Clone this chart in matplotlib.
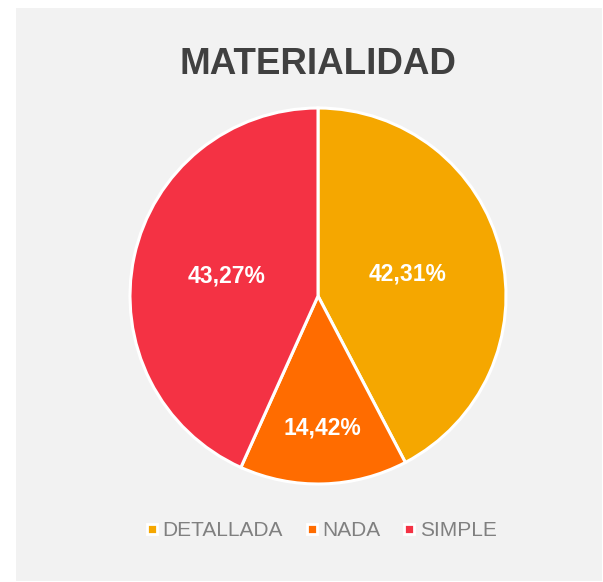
import matplotlib.pyplot as plt
from matplotlib.lines import Line2D
from matplotlib.patches import Rectangle
import numpy as np

plt.rcParams['font.family'] = ['Liberation Sans', 'DejaVu Sans']

# data
categories = ['DETALLADA', 'NADA', 'SIMPLE']
counts = [44, 15, 45]
colors = ['#F5A700', '#FF6C00', '#F43244']
label_dist = [0.49, 0.70, 0.50]

W, H = 603, 582
fig = plt.figure(figsize=(W / 100, H / 100), dpi=100)
fig.patch.set_facecolor('white')

# gray chart area
fig.patches.append(Rectangle((16 / W, 1 / H), 586 / W, 573 / H,
                             transform=fig.transFigure, facecolor='#F2F2F2',
                             edgecolor='none', zorder=-10))

# pie axes: center (318, 296), radius 188 px
cx, cy, r = 318, 296, 188
ax = fig.add_axes([(cx - r) / W, (H - cy - r) / H, 2 * r / W, 2 * r / H])
ax.set_facecolor('none')
ax.set_zorder(5)

wedges, texts, autotexts = ax.pie(
    counts, colors=colors, startangle=90, counterclock=False,
    autopct=lambda p: f"{p:.2f}%".replace('.', ','),
    pctdistance=0.5,
    wedgeprops=dict(edgecolor='white', linewidth=2.2),
    textprops=dict(color='white', fontsize=16.5, fontweight='bold'))

for w, t, d in zip(wedges, autotexts, label_dist):
    ang = np.deg2rad((w.theta1 + w.theta2) / 2)
    t.set_position((d * np.cos(ang), d * np.sin(ang)))

ax.set_xlim(-1, 1)
ax.set_ylim(-1, 1)
ax.set_aspect('equal')
ax.axis('off')

fig.text(318 / W, 1 - 65 / H, 'MATERIALIDAD', ha='center', va='center',
         fontsize=26.5, fontweight='bold', color='#404040')

handles = [Line2D([], [], marker='s', linestyle='none', markersize=7,
                  markerfacecolor=c, markeredgecolor='white', markeredgewidth=2)
           for c in colors]
fig.legend(handles, categories, loc='center', bbox_to_anchor=(321 / W, 1 - 531 / H),
           ncol=3, frameon=False, fontsize=15, labelcolor='#808080',
           handlelength=0.6, handletextpad=0.2, columnspacing=1.1,
           borderaxespad=0)

fig.savefig('out.png', dpi=100)
